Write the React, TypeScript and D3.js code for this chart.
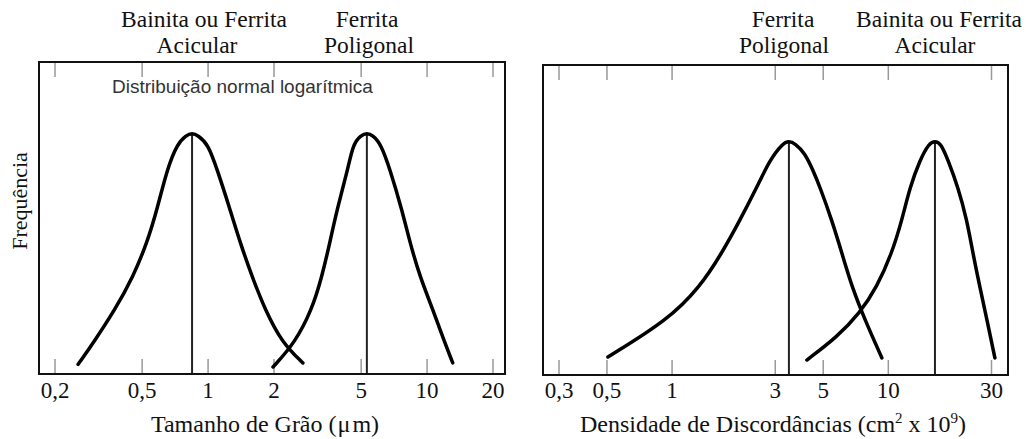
import * as React from 'react';
import * as d3 from 'd3';

// grain size panel (µm, log axis)
const grainTicks = [0.2, 0.5, 1, 2, 5, 10, 20];
const grainTickLabels = ['0,2', '0,5', '1', '2', '5', '10', '20'];

// bainite / acicular ferrite grain size curve
const bainiteGrainX = [0.255, 0.299, 0.376, 0.455, 0.527, 0.585, 0.65, 0.722, 0.794, 0.845, 0.9, 1.0, 1.099, 1.26, 1.4, 1.588, 1.82, 2.18, 2.71];
const bainiteGrainF = [0.04, 0.129, 0.267, 0.404, 0.546, 0.683, 0.85, 0.954, 0.99, 1.0, 0.99, 0.954, 0.85, 0.683, 0.546, 0.404, 0.267, 0.129, 0.046];

// polygonal ferrite grain size curve
const polyGrainX = [1.98, 2.49, 2.98, 3.31, 3.6, 3.88, 4.35, 4.59, 4.99, 5.31, 5.66, 6.15, 6.77, 7.67, 8.35, 9.27, 10.63, 12.05, 13.1];
const polyGrainF = [0.029, 0.129, 0.267, 0.404, 0.546, 0.683, 0.85, 0.954, 0.99, 1.0, 0.99, 0.954, 0.85, 0.683, 0.546, 0.404, 0.267, 0.129, 0.046];

const grainPeaks = [0.845, 5.31];

// dislocation density panel (cm^2 x 10^9, log axis)
const densityTicks = [0.3, 0.5, 1, 3, 5, 10, 30];
const densityTickLabels = ['0,3', '0,5', '1', '3', '5', '10', '30'];

const polyDensX = [0.505, 0.956, 1.345, 1.7, 2.06, 2.47, 2.83, 3.25, 3.47, 3.7, 4.11, 4.48, 4.83, 5.48, 6.1, 6.79, 7.8, 9.34];
const polyDensF = [0.077, 0.235, 0.376, 0.521, 0.662, 0.803, 0.919, 0.99, 1.0, 0.99, 0.949, 0.876, 0.803, 0.662, 0.521, 0.376, 0.235, 0.073];

const bainiteDensX = [4.2, 5.79, 7.39, 8.86, 10.39, 11.56, 12.59, 14.0, 15.41, 16.43, 17.51, 18.87, 20.99, 23.1, 24.6, 26.5, 28.6, 31.1];
const bainiteDensF = [0.064, 0.162, 0.265, 0.376, 0.521, 0.662, 0.803, 0.919, 0.99, 1.0, 0.99, 0.919, 0.803, 0.662, 0.521, 0.376, 0.235, 0.073];

const densityPeaks = [3.47, 16.43];

const serif = '"Liberation Serif", "Times New Roman", serif';
const sans = '"Liberation Sans", Arial, sans-serif';

interface PanelProps {
    left: number;
    right: number;
    top: number;
    bottom: number;
    x: d3.ScaleLogarithmic<number, number>;
    y: d3.ScaleLinear<number, number>;
    ticks: number[];
    tickLabels: string[];
    curves: { xs: number[]; fs: number[] }[];
    peaks: number[];
}

function Panel(props: PanelProps) {
    const { left, right, top, bottom, x, y, ticks, tickLabels, curves, peaks } = props;
    const line = d3.line<[number, number]>()
        .x((d) => x(d[0]))
        .y((d) => y(d[1]))
        .curve(d3.curveBasis);

    return (
        <g>
            {ticks.map((t, i) => (
                <g key={'t' + i}>
                    <line x1={x(t)} x2={x(t)} y1={bottom} y2={bottom - 15} stroke="#999" strokeWidth={1.5} />
                    <line x1={x(t)} x2={x(t)} y1={top} y2={top + 15} stroke="#999" strokeWidth={1.5} />
                    <text x={x(t)} y={398} textAnchor="middle" fontFamily={serif} fontSize={23} fill="#111">
                        {tickLabels[i]}
                    </text>
                </g>
            ))}
            {peaks.map((p, i) => (
                <line key={'p' + i} x1={x(p)} x2={x(p)} y1={y(1)} y2={bottom} stroke="#222" strokeWidth={2} />
            ))}
            {curves.map((c, i) => (
                <path key={'c' + i}
                    d={line(c.xs.map((v, j) => [v, c.fs[j]] as [number, number])) || ''}
                    fill="none" stroke="#000" strokeWidth={3.5} strokeLinecap="round" />
            ))}
            <rect x={left} y={top} width={right - left} height={bottom - top} fill="none" stroke="#111" strokeWidth={2} />
        </g>
    );
}

export default function App() {
    const xGrain = d3.scaleLog().domain([0.2, 20]).range([55, 493]);
    const yGrain = d3.scaleLinear().domain([0, 1]).range([374, 133]);
    const xDens = d3.scaleLog().domain([0.3, 30]).range([559, 991.5]);
    const yDens = d3.scaleLinear().domain([0, 1]).range([375, 141]);

    return (
        <svg width={1026} height={439} style={{ position: 'absolute', left: 0, top: 0, background: '#fff' }}>
            <rect width={1026} height={439} fill="#fff" />
            <Panel left={39} right={505} top={62} bottom={374} x={xGrain} y={yGrain}
                ticks={grainTicks} tickLabels={grainTickLabels}
                curves={[{ xs: bainiteGrainX, fs: bainiteGrainF }, { xs: polyGrainX, fs: polyGrainF }]}
                peaks={grainPeaks} />
            <Panel left={543} right={1008} top={65} bottom={375} x={xDens} y={yDens}
                ticks={densityTicks} tickLabels={densityTickLabels}
                curves={[{ xs: polyDensX, fs: polyDensF }, { xs: bainiteDensX, fs: bainiteDensF }]}
                peaks={densityPeaks} />

            <g fontFamily={serif} fontSize={23.5} fill="#111" textAnchor="middle">
                <text x={204} y={27}>Bainita ou Ferrita</text>
                <text x={197} y={53}>Acicular</text>
                <text x={367} y={27}>Ferrita</text>
                <text x={369} y={53}>Poligonal</text>
                <text x={783} y={27}>Ferrita</text>
                <text x={784} y={53}>Poligonal</text>
                <text x={939} y={27}>Bainita ou Ferrita</text>
                <text x={935} y={53}>Acicular</text>
            </g>
            <g fontFamily={serif} fontSize={24} fill="#111" textAnchor="middle">
                <text fontSize={22} transform="translate(27,201) rotate(-90)">Frequência</text>
                <text x={265} y={432}>Tamanho de Grão (<tspan dx={1}>μ</tspan><tspan dx={2}>m)</tspan></text>
                <text x={773} y={432}>
                    Densidade de Discordâncias (cm<tspan fontSize={15} dy={-9}>2</tspan><tspan dy={9}> x 10</tspan><tspan fontSize={15} dy={-9}>9</tspan><tspan dy={9}>)</tspan>
                </text>
            </g>
            <text x={112} y={93} fontFamily={sans} fontSize={19} fill="#333">Distribuição normal logarítmica</text>
        </svg>
    );
}
